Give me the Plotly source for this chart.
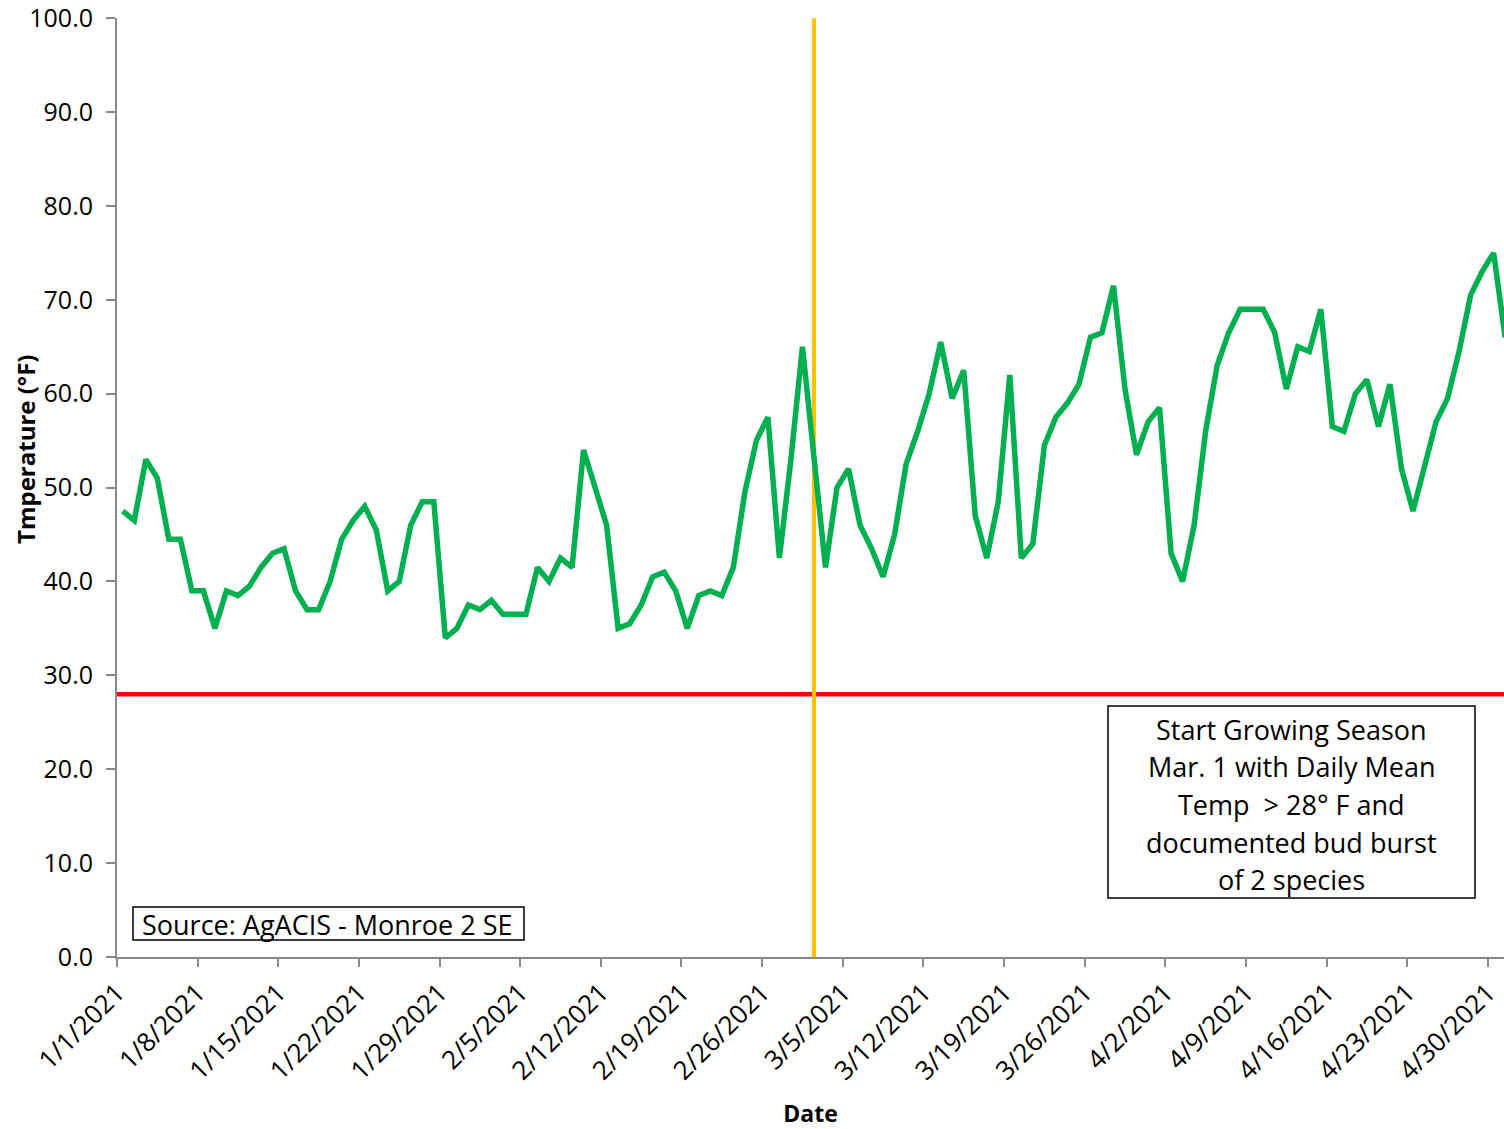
import datetime as dt
import plotly.graph_objects as go

# ---------------- data ----------------
start_date = "2021-01-01"
temps = [
    47.5, 46.5, 53, 51, 44.5, 44.5, 39, 39, 35, 39, 38.5, 39.5, 41.5, 43, 43.5,
    39, 37, 37, 40, 44.5, 46.5, 48, 45.5, 39, 40, 46, 48.5, 48.5, 34,
    35, 37.5, 37, 38, 36.5, 36.5, 36.5, 41.5, 40, 42.5, 41.5, 54, 50, 46, 35,
    35.5, 37.5, 40.5, 41, 39, 35, 38.5, 39, 38.5, 41.5, 49.5, 55, 57.5, 42.5,
    53, 65, 53, 41.5, 50, 52, 46, 43.5, 40.5, 45, 52.5, 56, 60, 65.5, 59.5,
    62.5, 47, 42.5, 48.5, 62, 42.5, 44, 54.5,
    57.5, 59, 61, 66, 66.5, 71.5, 60.5, 53.5, 57, 58.5, 43, 40, 46, 56, 63, 66.5,
    69, 69, 69, 66.5, 60.5, 65, 64.5, 69, 56.5, 56, 60, 61.5, 56.5, 61, 52,
    47.5, 52.5, 57, 59.5, 64.5, 70.5, 73, 75, 66,
]
threshold_temp = 28
season_marker_date = "2021-03-02 12:00"
tick_dates = ["2021-01-01", "2021-01-08", "2021-01-15", "2021-01-22", "2021-01-29",
              "2021-02-05", "2021-02-12", "2021-02-19", "2021-02-26", "2021-03-05",
              "2021-03-12", "2021-03-19", "2021-03-26", "2021-04-02", "2021-04-09",
              "2021-04-16", "2021-04-23", "2021-04-30"]
tick_labels = ["1/1/2021", "1/8/2021", "1/15/2021", "1/22/2021", "1/29/2021",
               "2/5/2021", "2/12/2021", "2/19/2021", "2/26/2021", "3/5/2021",
               "3/12/2021", "3/19/2021", "3/26/2021", "4/2/2021", "4/9/2021",
               "4/16/2021", "4/23/2021", "4/30/2021"]
y_ticks = [0, 10, 20, 30, 40, 50, 60, 70, 80, 90, 100]
y_title = "Tmperature (°F)"
x_title = "Date"
source_text = "Source: AgACIS - Monroe 2 SE"
note_lines = ["Start Growing Season", "Mar. 1 with Daily Mean",
              "Temp  &gt; 28° F and", "documented bud burst", "of 2 species"]

# ---------------- build ----------------
d0 = dt.datetime.fromisoformat(start_date)
# Excel date axis: each day's point is centred in its day slot
xs = [d0 + dt.timedelta(days=i, hours=12) for i in range(len(temps))]
x_end = d0 + dt.timedelta(days=120.4)

FONT = "Open Sans"
AX = "#898989"

fig = go.Figure()
fig.add_trace(go.Scatter(x=xs, y=temps, mode="lines",
                         line=dict(color="#00B050", width=5.5),
                         showlegend=False, hoverinfo="x+y"))

# vertical season marker and horizontal threshold
fig.add_shape(type="line", xref="x", yref="y",
              x0=season_marker_date, x1=season_marker_date, y0=0, y1=100,
              line=dict(color="#FFC000", width=4), layer="below")
fig.add_shape(type="line", xref="paper", yref="y", x0=0, x1=1,
              y0=threshold_temp, y1=threshold_temp,
              line=dict(color="#FF0000", width=4.5), layer="below")

W, H = 1504, 1129
L, R, T, B = 117, 0, 18, 172
pw, ph = W - L - R, H - T - B

def px_x(p):  # page pixel -> paper
    return (p - L) / pw

def px_y(p):
    return (H - B - p) / ph

# note box
fig.add_shape(type="rect", xref="paper", yref="paper",
              x0=px_x(1108), x1=px_x(1475), y0=px_y(898), y1=px_y(706),
              line=dict(color="black", width=1.5), fillcolor="white", layer="above")
for k, line in enumerate(note_lines):
    fig.add_annotation(xref="paper", yref="paper", x=px_x(1291.5),
                       y=px_y(729 + 37.7 * k), text=line, showarrow=False,
                       xanchor="center", yanchor="middle",
                       font=dict(family=FONT, size=27, color="black"))

# source box
fig.add_shape(type="rect", xref="paper", yref="paper",
              x0=px_x(133), x1=px_x(524), y0=px_y(940), y1=px_y(907),
              line=dict(color="black", width=1.5), fillcolor="white", layer="above")
fig.add_annotation(xref="paper", yref="paper", x=px_x(140), y=px_y(924),
                   xanchor="left", yanchor="middle", text=source_text,
                   showarrow=False,
                   font=dict(family=FONT, size=27, color="black"))

# y-axis title (placed as in the reference, not centred on the plot)
fig.add_annotation(xref="paper", yref="paper", x=px_x(25), y=px_y(450),
                   xanchor="center", yanchor="middle", textangle=-90,
                   text=f"<b>{y_title}</b>", showarrow=False,
                   font=dict(family=FONT, size=24, color="black"))

fig.update_layout(
    width=W, height=H,
    margin=dict(l=L, r=R, t=T, b=B, autoexpand=False),
    paper_bgcolor="white", plot_bgcolor="white",
    font=dict(family=FONT, size=24, color="black"),
    xaxis=dict(
        type="date", range=[d0, x_end], automargin=False,
        tickmode="array", tickvals=tick_dates, ticktext=tick_labels,
        tickangle=-45, ticks="outside", ticklen=8, tickcolor=AX, tickwidth=2,
        showline=True, linecolor=AX, linewidth=2, showgrid=False, zeroline=False,
        ticklabeloverflow="allow",
        tickfont=dict(family=FONT, size=26, color="black"),
        title=dict(text=f"<b>{x_title}</b>", font=dict(family=FONT, size=23), standoff=20),
    ),
    yaxis=dict(
        range=[0, 100.02], tickmode="array", tickvals=y_ticks, automargin=False,
        tickformat=".1f", ticks="outside", ticklen=9, tickcolor=AX, tickwidth=2,
        showline=True, linecolor=AX, linewidth=2, showgrid=False, zeroline=False,
        ticklabeloverflow="allow",
        tickfont=dict(family=FONT, size=25, color="black"),
        ticklabelstandoff=8,
    ),
)

# remove the default 8px page margin so the figure fills the window exactly
fig.write_html("out.html", config={"displayModeBar": False},
               post_script="document.body.style.margin='0px';")
